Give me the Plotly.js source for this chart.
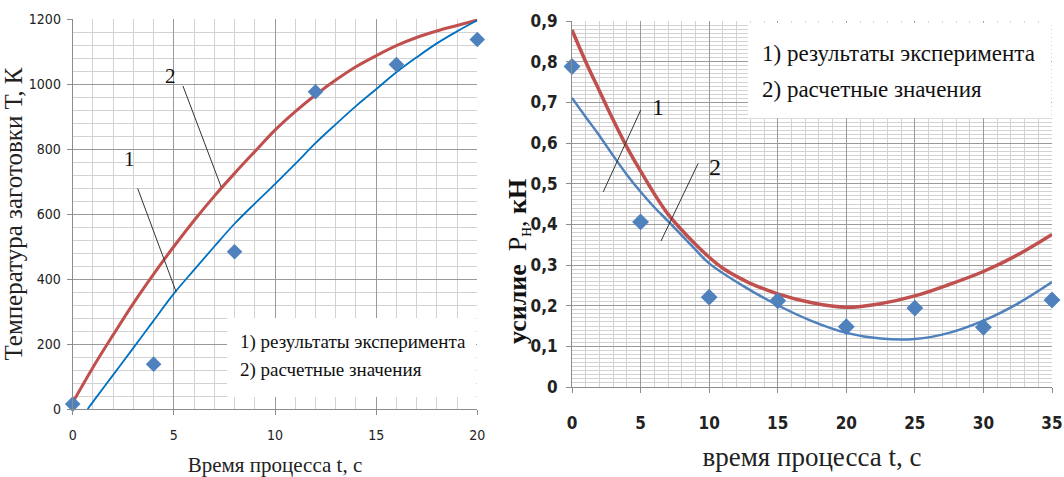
<!DOCTYPE html>
<html><head><meta charset="utf-8">
<script src="https://cdn.plot.ly/plotly-3.0.1.min.js"></script>
<style>html,body{margin:0;padding:0;background:#fff}#chart{width:1064px;height:477px}</style>
</head><body><div id="chart"></div>
<script>
// ---------- Left chart: temperature of the blank ----------
const leftExpT = [0, 4, 8, 12, 16, 20];
const leftExpK = [15, 138, 484, 976, 1060, 1137];
const leftCurve1T = [0.74, 1, 2, 3, 4, 5, 6, 7, 8, 9, 10, 11, 12, 13, 14, 15, 16, 17, 18, 19, 20];
const leftCurve1K = [0, 22, 105, 188, 272, 355, 428, 500, 570, 632, 692, 754, 818, 876, 932, 984, 1036, 1082, 1125, 1162, 1196];
const leftCurve2T = [0, 1, 2, 3, 4, 5, 6, 7, 8, 9, 10, 11, 12, 13, 14, 15, 16, 17, 18, 19, 20];
const leftCurve2K = [20, 128, 228, 325, 415, 500, 580, 655, 725, 792, 858, 915, 966, 1012, 1053, 1087, 1118, 1143, 1163, 1180, 1197];
const leftXTicks = [0, 5, 10, 15, 20];
const leftXTickText = ['0', '5', '10', '15', '20'];
const leftYTicks = [0, 200, 400, 600, 800, 1000, 1200];
const leftYTickText = ['0', '200', '400', '600', '800', '1000', '1200'];

// ---------- Right chart: force ----------
const rightExpT = [0, 5, 10, 15, 20, 25, 30, 35];
const rightExpP = [0.788, 0.406, 0.221, 0.212, 0.148, 0.194, 0.147, 0.214];
const rightCurve1T = [0, 1, 2, 3, 4, 5, 6, 7, 8, 9, 10, 12.5, 15, 17.5, 20, 22.5, 25, 27.5, 30, 32.5, 35];
const rightCurve1P = [0.711, 0.664, 0.618, 0.569, 0.522, 0.480, 0.442, 0.408, 0.373, 0.338, 0.304, 0.248, 0.201, 0.162, 0.133, 0.119, 0.118, 0.133, 0.163, 0.205, 0.258];
const rightCurve2T = [0, 1, 2, 3, 4, 5, 6, 7, 8, 9, 10, 11, 12, 13, 15, 17.5, 20, 22.5, 25, 27.5, 30, 32.5, 35];
const rightCurve2P = [0.878, 0.800, 0.728, 0.657, 0.590, 0.531, 0.475, 0.425, 0.386, 0.351, 0.319, 0.292, 0.272, 0.255, 0.229, 0.207, 0.196, 0.205, 0.224, 0.252, 0.284, 0.325, 0.375];
const rightXTicks = [0, 5, 10, 15, 20, 25, 30, 35];
const rightXTickText = ['0', '5', '10', '15', '20', '25', '30', '35'];
const rightYTicks = [0, 0.1, 0.2, 0.3, 0.4, 0.5, 0.6, 0.7, 0.8, 0.9];
const rightYTickText = ['0', '0,1', '0,2', '0,3', '0,4', '0,5', '0,6', '0,7', '0,8', '0,9'];

const legendText1 = '1) результаты эксперимента';
const legendText2 = '2) расчетные значения';

const RED = '#C0504D', BLUE_L = '#0070C0', BLUE_R = '#4F81BD', DIAM = '#4F81BD';
const SERIF = 'Liberation Serif, Times New Roman, serif';
const NARROW = 'Liberation Sans Narrow, Arial Narrow, DejaVu Sans Condensed, sans-serif';

const traces = [
  {x: leftCurve2T, y: leftCurve2K, mode: 'lines', line: {color: RED, width: 3, shape: 'spline'}, xaxis: 'x', yaxis: 'y', name: legendText2},
  {x: leftCurve1T, y: leftCurve1K, mode: 'lines', line: {color: BLUE_L, width: 1.8, shape: 'spline'}, xaxis: 'x', yaxis: 'y', name: legendText1},
  {x: leftExpT, y: leftExpK, mode: 'markers', marker: {symbol: 'diamond', size: 12, color: DIAM}, cliponaxis: false, xaxis: 'x', yaxis: 'y', name: 'эксперимент'},
  {x: rightCurve2T, y: rightCurve2P, mode: 'lines', line: {color: RED, width: 3.5, shape: 'spline'}, xaxis: 'x2', yaxis: 'y2', name: legendText2},
  {x: rightCurve1T, y: rightCurve1P, mode: 'lines', line: {color: BLUE_R, width: 2.5, shape: 'spline'}, xaxis: 'x2', yaxis: 'y2', name: legendText1},
  {x: rightExpT, y: rightExpP, mode: 'markers', marker: {symbol: 'diamond', size: 13, color: DIAM}, cliponaxis: false, xaxis: 'x2', yaxis: 'y2', name: 'эксперимент'}
];

const W = 1064, H = 477;
const gridMajor = '#9a9a9a', gridMinor = '#d2d2d2';

function axisBase(extra) {
  return Object.assign({
    showgrid: true, gridcolor: gridMajor, gridwidth: 1,
    zeroline: false, showline: true, linecolor: '#8c8c8c', linewidth: 1,
    ticks: 'outside', ticklen: 5, tickcolor: '#8c8c8c', tickmode: 'array',
    fixedrange: true
  }, extra);
}

const layout = {
  width: W, height: H,
  margin: {l: 0, r: 0, t: 0, b: 0},
  paper_bgcolor: '#fff', plot_bgcolor: '#fff',
  showlegend: false,
  xaxis: axisBase({
    domain: [72.7 / W, 477.3 / W], range: [0, 20], anchor: 'y',
    tickvals: leftXTicks, ticktext: leftXTickText,
    minor: {dtick: 1, showgrid: true, gridcolor: gridMinor, ticks: ''},
    tickfont: {family: NARROW, size: 14, color: '#222'},
    ticklabelstandoff: 8,
    title: {text: 'Время процесса t, с', font: {family: SERIF, size: 21, color: '#222'}, standoff: 20}
  }),
  yaxis: axisBase({
    domain: [1 - 409 / H, 1 - 19 / H], range: [0, 1200], anchor: 'x',
    tickvals: leftYTicks, ticktext: leftYTickText,
    minor: {dtick: 40, showgrid: true, gridcolor: gridMinor, ticks: ''},
    tickfont: {family: NARROW, size: 14, color: '#222'},
    ticklabelstandoff: 3,
    title: {text: 'Температура заготовки Т, К', font: {family: SERIF, size: 25, color: '#222'}, standoff: 1}
  }),
  xaxis2: axisBase({
    domain: [572 / W, 1052 / W], range: [0, 35], anchor: 'y2',
    tickvals: rightXTicks, ticktext: rightXTickText,
    minor: {dtick: 1, showgrid: true, gridcolor: gridMinor, ticks: ''},
    tickfont: {family: NARROW, size: 17, color: '#222', weight: 'bold'},
    ticklabelstandoff: 16,
    title: {text: 'время процесса t, с', font: {family: SERIF, size: 27, color: '#222'}, standoff: 14}
  }),
  yaxis2: axisBase({
    domain: [1 - 387 / H, 1 - 21 / H], range: [0, 0.9], anchor: 'x2',
    tickvals: rightYTicks, ticktext: rightYTickText,
    minor: {dtick: 0.01, showgrid: true, gridcolor: gridMinor, ticks: ''},
    tickfont: {family: NARROW, size: 17, color: '#222', weight: 'bold'},
    ticklabelstandoff: 5
  }),
  shapes: [
    {type: 'rect', xref: 'x', yref: 'y', x0: 7.63, x1: 19.93, y0: 37, y1: 280, fillcolor: '#fff', line: {width: 0}, layer: 'between'},
    {type: 'rect', xref: 'x2', yref: 'y2', x0: 12.83, x1: 34.93, y0: 0.661, y1: 0.896, fillcolor: '#fff', line: {width: 0}, layer: 'between'},
    {type: 'line', xref: 'x', yref: 'y', x0: 5.45, y0: 994, x1: 7.34, y1: 683, line: {color: '#333', width: 1}},
    {type: 'line', xref: 'x', yref: 'y', x0: 3.21, y0: 679, x1: 5.11, y1: 361, line: {color: '#333', width: 1}},
    {type: 'line', xref: 'x2', yref: 'y2', x0: 5.01, y0: 0.681, x1: 2.28, y1: 0.48, line: {color: '#333', width: 1}},
    {type: 'line', xref: 'x2', yref: 'y2', x0: 9.2, y0: 0.55, x1: 6.49, y1: 0.359, line: {color: '#333', width: 1}}
  ],
  annotations: [
    {xref: 'x', yref: 'y', x: 4.81, y: 1025, text: '2', showarrow: false, font: {family: SERIF, size: 21, color: '#111'}},
    {xref: 'x', yref: 'y', x: 2.83, y: 769, text: '1', showarrow: false, font: {family: SERIF, size: 21, color: '#111'}},
    {xref: 'x2', yref: 'y2', x: 6.29, y: 0.689, text: '1', showarrow: false, font: {family: SERIF, size: 24, color: '#111'}},
    {xref: 'x2', yref: 'y2', x: 10.42, y: 0.542, text: '2', showarrow: false, font: {family: SERIF, size: 24, color: '#111'}},
    {xref: 'paper', yref: 'paper', x: 238 / W, y: 1 - 342 / H, xanchor: 'left', yanchor: 'middle', text: legendText1, showarrow: false, font: {family: SERIF, size: 19, color: '#111'}},
    {xref: 'paper', yref: 'paper', x: 238 / W, y: 1 - 370 / H, xanchor: 'left', yanchor: 'middle', text: legendText2, showarrow: false, font: {family: SERIF, size: 19, color: '#111'}},
    {xref: 'paper', yref: 'paper', x: 760 / W, y: 1 - 53 / H, xanchor: 'left', yanchor: 'middle', text: legendText1, showarrow: false, font: {family: SERIF, size: 23, color: '#111'}},
    {xref: 'paper', yref: 'paper', x: 760 / W, y: 1 - 90 / H, xanchor: 'left', yanchor: 'middle', text: legendText2, showarrow: false, font: {family: SERIF, size: 23, color: '#111'}},
    {xref: 'paper', yref: 'paper', x: 519 / W, y: 1 - 262 / H, xanchor: 'center', yanchor: 'middle', textangle: -90,
     text: '<b>усилие</b>  Р<sub>н</sub>, <b>кН</b>', showarrow: false, font: {family: SERIF, size: 26, color: '#111'}}
  ]
};

Plotly.newPlot('chart', traces, layout, {displayModeBar: false, staticPlot: true});
</script>
</body></html>
